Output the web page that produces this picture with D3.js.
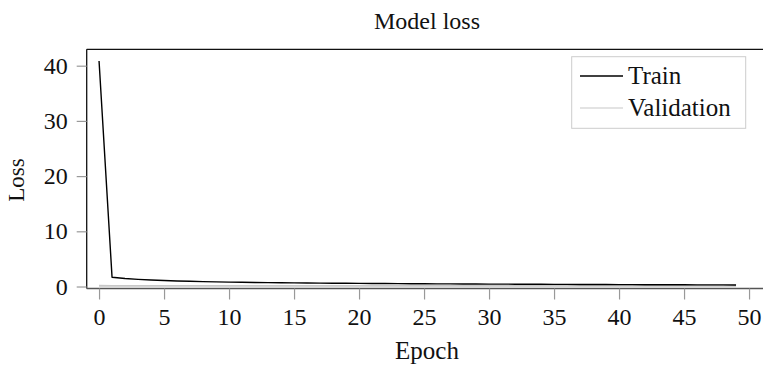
<!DOCTYPE html>
<html>
<head>
<meta charset="utf-8">
<script src="https://cdn.jsdelivr.net/npm/d3@7"></script>
<style>
  html, body { margin: 0; padding: 0; background: #fff; }
  svg { display: block; font-family: "Liberation Serif", "Times New Roman", serif; }
</style>
</head>
<body>
<svg id="chart" width="763" height="365"></svg>
<script>
// Training history: loss per epoch
const epochs = d3.range(0, 50);
const trainLoss = [
  40.85, 1.67, 1.45, 1.30, 1.18, 1.08, 1.00, 0.94, 0.89, 0.84,
  0.80, 0.77, 0.74, 0.71, 0.69, 0.66, 0.64, 0.62, 0.60, 0.58,
  0.57, 0.55, 0.54, 0.52, 0.51, 0.50, 0.48, 0.47, 0.46, 0.45,
  0.44, 0.43, 0.42, 0.41, 0.40, 0.39, 0.38, 0.37, 0.36, 0.36,
  0.35, 0.34, 0.33, 0.32, 0.32, 0.31, 0.30, 0.29, 0.29, 0.28
];
const valLoss = [
  0.14, 0.13, 0.13, 0.13, 0.12, 0.12, 0.12, 0.12, 0.12, 0.12,
  0.12, 0.12, 0.12, 0.12, 0.12, 0.12, 0.12, 0.12, 0.12, 0.12,
  0.12, 0.12, 0.12, 0.12, 0.12, 0.12, 0.12, 0.12, 0.12, 0.12,
  0.12, 0.12, 0.12, 0.12, 0.12, 0.12, 0.12, 0.12, 0.12, 0.12,
  0.12, 0.12, 0.12, 0.12, 0.12, 0.12, 0.12, 0.12, 0.12, 0.12
];
const xTicks = [0, 5, 10, 15, 20, 25, 30, 35, 40, 45, 50];
const yTicks = [0, 10, 20, 30, 40];
const seriesNames = ["Train", "Validation"];
const seriesColors = ["#000000", "#c8c8c8"];

const svg = d3.select("#chart");
const plot = { left: 86.7, right: 764, top: 49.3, bottom: 288.5 };

const x = d3.scaleLinear().domain([-0.95, 51.2]).range([plot.left, plot.left + 52.15 * 13]);
const y = d3.scaleLinear().domain([-0.36, 42.97]).range([plot.bottom, plot.top]);

// frame: dark left and top edges, grey baseline
svg.append("line").attr("x1", plot.left).attr("x2", plot.left)
  .attr("y1", plot.top).attr("y2", plot.bottom)
  .attr("stroke", "#111").attr("stroke-width", 1.3);
svg.append("line").attr("x1", plot.left).attr("x2", plot.right)
  .attr("y1", plot.top).attr("y2", plot.top)
  .attr("stroke", "#111").attr("stroke-width", 1.3);

// x axis
const xAxis = svg.append("g")
  .attr("transform", `translate(0,${plot.bottom})`)
  .call(d3.axisBottom(x).tickValues(xTicks).tickSize(11).tickPadding(8).tickFormat(d3.format("d")));
xAxis.select(".domain").attr("d", `M${plot.left},0H${plot.right}`).attr("stroke", "#555").attr("stroke-width", 1.6);
xAxis.selectAll(".tick line").attr("stroke", "#999").attr("stroke-width", 1.2);
xAxis.selectAll(".tick text").attr("fill", "#111").style("font-size", "24px")
  .style("font-family", "'Liberation Serif', serif");

// y axis
const yAxis = svg.append("g")
  .attr("transform", `translate(${plot.left},0)`)
  .call(d3.axisLeft(y).tickValues(yTicks).tickSize(10).tickPadding(9).tickFormat(d3.format("d")));
yAxis.select(".domain").remove();
yAxis.selectAll(".tick line").attr("stroke", "#999").attr("stroke-width", 1.2);
yAxis.selectAll(".tick text").attr("fill", "#111").style("font-size", "24px")
  .style("font-family", "'Liberation Serif', serif");

// series lines
const line = d3.line().x((d, i) => x(epochs[i])).y(d => y(d));
svg.append("path").datum(valLoss)
  .attr("d", line).attr("fill", "none")
  .attr("stroke", seriesColors[1]).attr("stroke-width", 1.8);
svg.append("path").datum(trainLoss)
  .attr("d", line).attr("fill", "none")
  .attr("stroke", seriesColors[0]).attr("stroke-width", 1.4)
  .attr("stroke-linejoin", "round");

// title and axis labels
svg.append("text").attr("x", 427).attr("y", 29).attr("text-anchor", "middle")
  .style("font-size", "24px").attr("fill", "#111").text("Model loss");
svg.append("text").attr("x", 427).attr("y", 359).attr("text-anchor", "middle")
  .style("font-size", "25px").attr("fill", "#111").text("Epoch");
svg.append("text").attr("transform", "translate(24,180) rotate(-90)")
  .attr("text-anchor", "middle").style("font-size", "23px").attr("fill", "#111").text("Loss");

// legend
const legend = svg.append("g");
legend.append("rect").attr("x", 571.7).attr("y", 56.7).attr("width", 174).attr("height", 71.6)
  .attr("fill", "#fff").attr("stroke", "#ccc").attr("stroke-width", 1);
seriesNames.forEach((name, i) => {
  const cy = 76 + i * 32;
  legend.append("line").attr("x1", 580).attr("x2", 623).attr("y1", cy).attr("y2", cy)
    .attr("stroke", seriesColors[i]).attr("stroke-width", i === 0 ? 1.4 : 1.2);
  legend.append("text").attr("x", 628).attr("y", cy + 8)
    .style("font-size", "25px").attr("fill", "#111").text(name);
});
</script>
</body>
</html>
